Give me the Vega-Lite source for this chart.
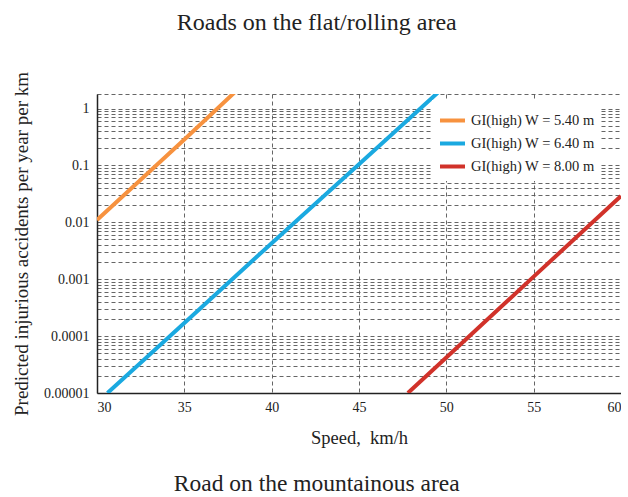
{
  "$schema": "https://vega.github.io/schema/vega-lite/v6.json",
  "background": "white",
  "padding": {"left": 12, "right": 0, "top": 10, "bottom": 0},
  "title": {"text": "Roads on the flat/rolling area", "font": "Liberation Serif", "fontSize": 24, "fontWeight": "normal", "color": "#222", "anchor": "middle", "frame": "bounds", "offset": 37},
  "config": {
    "view": {"stroke": null},
    "font": "Liberation Serif"
  },
  "vconcat": [
    {
      "title": {"text": "Road on the mountainous area", "orient": "bottom", "font": "Liberation Serif", "fontSize": 23.5, "fontWeight": "normal", "color": "#222", "anchor": "middle", "frame": "bounds", "offset": 25},
      "width": 524,
      "height": 299,
      "data": {
        "values": [
          {"series": "GI(high) W = 5.40 m", "speed": 30, "acc": 0.011},
          {"series": "GI(high) W = 5.40 m", "speed": 35, "acc": 0.285},
          {"series": "GI(high) W = 5.40 m", "speed": 38.5, "acc": 2.9},
          {"series": "GI(high) W = 6.40 m", "speed": 30.6, "acc": 0.00001},
          {"series": "GI(high) W = 6.40 m", "speed": 35, "acc": 0.00017},
          {"series": "GI(high) W = 6.40 m", "speed": 40, "acc": 0.0043},
          {"series": "GI(high) W = 6.40 m", "speed": 45, "acc": 0.105},
          {"series": "GI(high) W = 6.40 m", "speed": 50, "acc": 2.6},
          {"series": "GI(high) W = 8.00 m", "speed": 47.8, "acc": 0.00001},
          {"series": "GI(high) W = 8.00 m", "speed": 50, "acc": 0.000042},
          {"series": "GI(high) W = 8.00 m", "speed": 55, "acc": 0.00111},
          {"series": "GI(high) W = 8.00 m", "speed": 60, "acc": 0.029}
        ]
      },
      "mark": {"type": "line", "strokeWidth": 4, "clip": true},
      "encoding": {
        "x": {
          "field": "speed", "type": "quantitative",
          "scale": {"domain": [30, 60], "nice": false, "zero": false},
          "axis": {
            "title": "Speed,\u00a0 km/h", "values": [30, 35, 40, 45, 50, 55, 60],
            "titleFont": "Liberation Serif", "titleFontSize": 18.5, "titleFontWeight": "normal", "titleColor": "#222", "titlePadding": 14,
            "labelFont": "Liberation Serif", "labelFontSize": 14, "labelColor": "#222", "labelPadding": 7,
            "ticks": false, "domainColor": "#222", "domainWidth": 1.5,
            "grid": true, "gridColor": "#555", "gridDash": [4, 3], "gridOpacity": 0.9
          }
        },
        "y": {
          "field": "acc", "type": "quantitative",
          "scale": {"type": "log", "domain": [0.00001, 1.8], "nice": false},
          "axis": {
            "title": "Predicted injurious accidents per year per km",
            "values": [0.00001, 0.00002, 0.00003, 0.00004, 0.00005, 0.00006, 0.00007, 0.00008, 0.00009,
                       0.0001, 0.0002, 0.0003, 0.0004, 0.0005, 0.0006, 0.0007, 0.0008, 0.0009,
                       0.001, 0.002, 0.003, 0.004, 0.005, 0.006, 0.007, 0.008, 0.009,
                       0.01, 0.02, 0.03, 0.04, 0.05, 0.06, 0.07, 0.08, 0.09,
                       0.1, 0.2, 0.3, 0.4, 0.5, 0.6, 0.7, 0.8, 0.9, 1, 1.8],
            "labelExpr": "datum.value==1?'1':datum.value==0.1?'0.1':datum.value==0.01?'0.01':datum.value==0.001?'0.001':datum.value==0.0001?'0.0001':datum.value==0.00001?'0.00001':''",
            "labelOverlap": false,
            "titleFont": "Liberation Serif", "titleFontSize": 19, "titleFontWeight": "normal", "titleColor": "#222", "titlePadding": 12,
            "labelFont": "Liberation Serif", "labelFontSize": 14, "labelColor": "#222", "labelPadding": 8,
            "ticks": false, "domainColor": "#222", "domainWidth": 1.5,
            "grid": true, "gridColor": "#555", "gridDash": [4, 3], "gridOpacity": 0.9
          }
        },
        "color": {
          "field": "series", "type": "nominal",
          "scale": {"domain": ["GI(high) W = 5.40 m", "GI(high) W = 6.40 m", "GI(high) W = 8.00 m"], "range": ["#f7923f", "#1aa9e0", "#d1322a"]},
          "legend": {
            "title": null, "orient": "none", "legendX": 335, "legendY": 6,
            "fillColor": "white", "padding": 6,
            "symbolType": "stroke", "symbolStrokeWidth": 4, "symbolSize": 625,
            "labelFont": "Liberation Serif", "labelFontSize": 14.5, "labelColor": "#222", "rowPadding": -5.5
          }
        }
      }
    }
  ]
}
